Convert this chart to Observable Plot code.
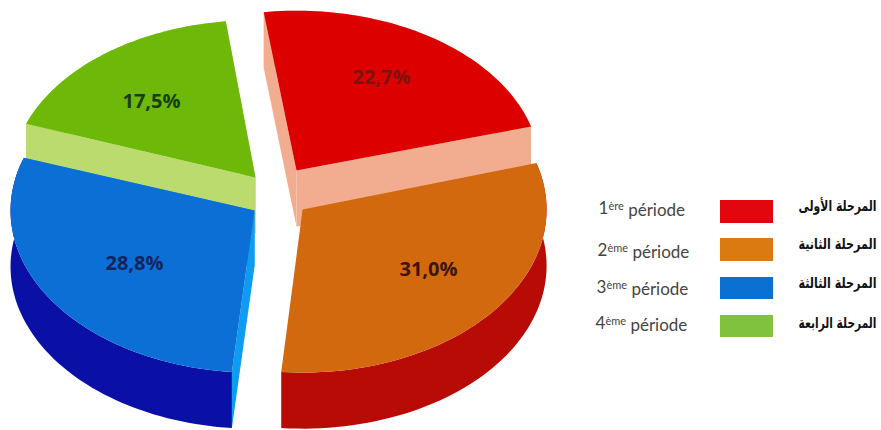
<!DOCTYPE html>
<html><head><meta charset="utf-8">
<script src="https://cdn.jsdelivr.net/npm/d3@7"></script>
<script src="https://cdn.jsdelivr.net/npm/@observablehq/plot@0.6"></script>
<style>html,body{margin:0;padding:0;background:#fff}svg{display:block}</style>
</head><body><div id="chart"></div>
<script>
// Data
const periodsFr = ["1ère période","2ème période","3ème période","4ème période"];
const periodsAr = ["المرحلة الأولى","المرحلة الثانية","المرحلة الثالثة","المرحلة الرابعة"];
const shares = [22.7,31.0,28.8,17.5];
// Styles
const topColors  = ["#dc0000","#d2690f","#0c6fd6","#6db808"];
const legendColors = ["#e2060f","#dc7a12","#0a70d2","#80c23e"];
const labelColors = ["#7a1410","#3d1505","#12245e","#173f14"];
const wallColors = ["#f2ad90",null,"#0c9cf2","#bcdb6e"];
const outerColors = ["#f2ad90","#b90b05","#0a0fa5","#bcdb6e"];
// Layout (pie units: 1 = one radius)
const W = 881, H = 430, CX = 275, CY = 190, RX = 244, RY = 163;
const startDeg = -7;
const apexX = [0.086,0.111,-0.086,-0.082];
const apexY = [0.123,-0.117,-0.123,0.08];
const ryFactor = [0.98,1,0.995,0.965];
const rot = [-0.7,-1.3,-1,0].map(d=>d*Math.PI/180);
const depth = 0.344;
const toX = px => (px-CX)/RX, toY = py => (CY-py)/RY;
const labelPxX = [381,428,134,151], labelPxY = [77,269,263,101];

const pie = d3.pie().sort(null).startAngle(startDeg*Math.PI/180).endAngle((360+startDeg)*Math.PI/180)(shares);
const pts = [];
function poly(id,color,list){ list.forEach(p=>pts.push({id,color,x:p[0],y:p[1]})); }
function pt(i,a,r,d){ return [apexX[i]+r*Math.sin(a+rot[i]), apexY[i]+r*ryFactor[i]*Math.cos(a+rot[i])-d]; }
function arc(i,d){
  const {startAngle:a0,endAngle:a1}=pie[i]; const n=60;
  return d3.range(n+1).map(k=>pt(i,a0+(a1-a0)*k/n,1,d));
}
function cutWall(i,a,id){ if(wallColors[i]) poly(id,wallColors[i],[pt(i,a,0,0),pt(i,a,1,0),pt(i,a,1,depth),pt(i,a,0,depth)]); }
function drawWedge(i){
  const {startAngle:a0,endAngle:a1}=pie[i];
  cutWall(i,a0,"w0"+i); cutWall(i,a1,"w1"+i);
  poly("o"+i,outerColors[i],[...arc(i,0),...arc(i,depth).reverse()]);
  poly("t"+i,topColors[i],[pt(i,a0,0,0),...arc(i,0)]);
}
[3,0,1,2].forEach(drawWedge);

const labelData = shares.map((v,i)=>({t:v.toFixed(1).replace(".",",")+"%",x:toX(labelPxX[i]),y:toY(labelPxY[i]),c:labelColors[i]}));
const swatchPx = [[200,223],[238,261],[277,299],[315,337]];
const frPxX=[598,597,596,595], frPxY=[208,250,287,323], arPxY=[206,244,283,323];
const legend = periodsFr.map((fr,i)=>({fr,ar:periodsAr[i],c:legendColors[i],
  y1:toY(swatchPx[i][0]),y2:toY(swatchPx[i][1]),
  fx:toX(frPxX[i]),fy:toY(frPxY[i]),ay:toY(arPxY[i])}));

const plot = Plot.plot({
  width:W,height:H,margin:0,axis:null,
  x:{domain:[toX(0),toX(W)],range:[0,W]},
  y:{domain:[toY(H),toY(0)],range:[H,0]},
  color:{type:"identity"},
  marks:[
    Plot.line(pts,{x:"x",y:"y",z:"id",fill:"color",stroke:"none",curve:"linear"}),
    Plot.text(labelData,{x:"x",y:"y",text:"t",fill:"c",fontSize:20,fontWeight:"bold",fontFamily:"Open Sans"}),
    Plot.rect(legend,{x1:()=>toX(720),x2:()=>toX(773),y1:"y1",y2:"y2",fill:"c"}),
    Plot.text(legend,{x:"fx",y:"fy",text:"fr",textAnchor:"start",fill:"#444",fontSize:17,fontFamily:"Lato",className:"fr"}),
    Plot.text(legend,{x:()=>toX(876),y:"ay",text:"ar",textAnchor:"end",fill:"#111",fontSize:15,fontWeight:"bold",fontFamily:"DejaVu Sans",className:"ar"})
  ]
});
// superscript ordinal suffixes
d3.select(plot).selectAll("g.fr text").each(function(){
  const s=this.textContent, m=s.match(/^(\d)(\S+) (.*)$/);
  const t=d3.select(this); t.text(null);
  t.append("tspan").text(m[1]);
  t.append("tspan").attr("dy","-0.4em").attr("font-size","11").text(m[2]);
  t.append("tspan").attr("dy","0.4em").text(" "+m[3]);
});
document.getElementById("chart").append(plot);
// condense the Arabic labels horizontally, keeping their height
d3.select(plot).selectAll("g.ar text").each(function(){
  const k = 78/this.getComputedTextLength();
  const tr = this.getAttribute("transform")||"";
  this.setAttribute("transform", tr+` scale(${k},1)`);
});
</script></body></html>
